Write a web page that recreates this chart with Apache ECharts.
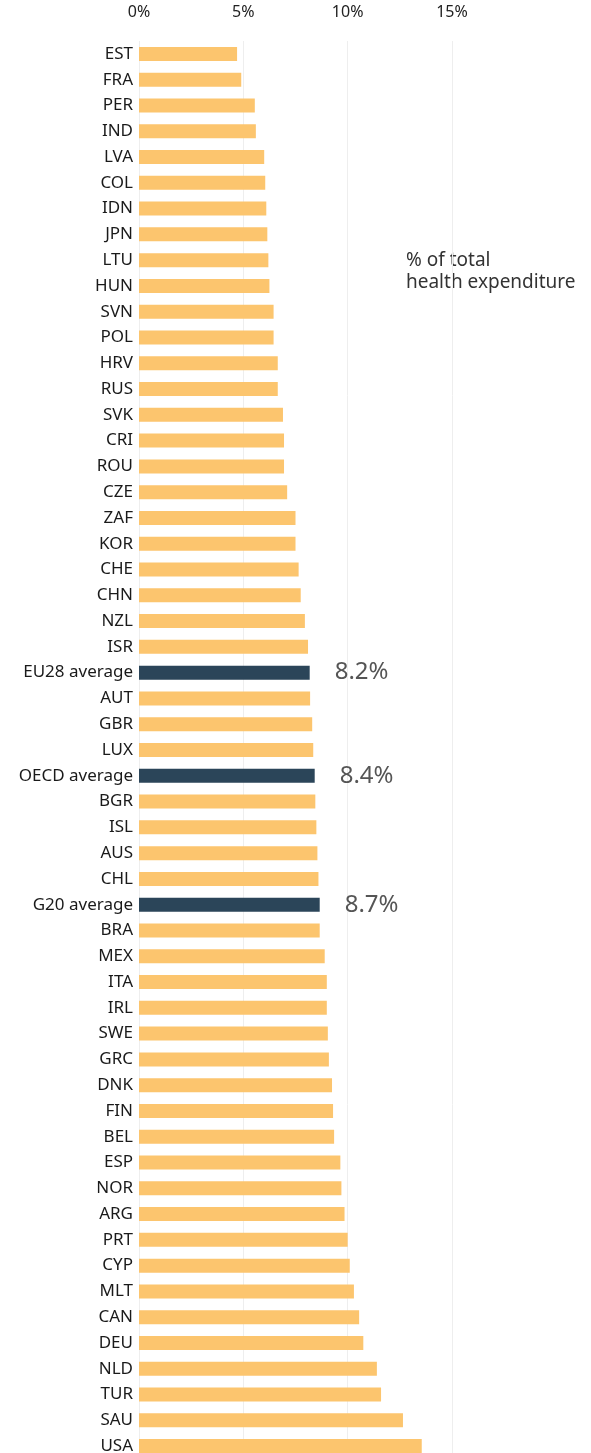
<!DOCTYPE html>
<html>
<head>
<meta charset="utf-8">
<script src="https://cdn.jsdelivr.net/npm/echarts@6/dist/echarts.min.js"></script>
<style>
  html, body { margin: 0; padding: 0; background: #fff; overflow: hidden; }
  /* chart runs a few px past the window bottom, the last bar is cut like in the original */
  #chart { width: 591px; height: 1460px; }
</style>
</head>
<body>
<div id="chart"></div>
<script>
// countries, top to bottom
const countries = [
  'EST', 'FRA', 'PER', 'IND', 'LVA', 'COL', 'IDN', 'JPN', 'LTU', 'HUN',
  'SVN', 'POL', 'HRV', 'RUS', 'SVK', 'CRI', 'ROU', 'CZE', 'ZAF', 'KOR',
  'CHE', 'CHN', 'NZL', 'ISR', 'EU28 average', 'AUT', 'GBR', 'LUX', 'OECD average', 'BGR',
  'ISL', 'AUS', 'CHL', 'G20 average', 'BRA', 'MEX', 'ITA', 'IRL', 'SWE', 'GRC',
  'DNK', 'FIN', 'BEL', 'ESP', 'NOR', 'ARG', 'PRT', 'CYP', 'MLT', 'CAN',
  'DEU', 'NLD', 'TUR', 'SAU', 'USA'
];

// % of total health expenditure
const shares = [
  4.7, 4.9, 5.55, 5.6, 6.0, 6.05, 6.1, 6.15, 6.2, 6.25,
  6.45, 6.45, 6.65, 6.65, 6.9, 6.95, 6.95, 7.1, 7.5, 7.5,
  7.65, 7.75, 7.95, 8.1, 8.18, 8.2, 8.3, 8.35, 8.42, 8.45,
  8.5, 8.55, 8.6, 8.66, 8.66, 8.9, 9.0, 9.0, 9.05, 9.1,
  9.25, 9.3, 9.35, 9.65, 9.7, 9.85, 10.0, 10.1, 10.3, 10.55,
  10.75, 11.4, 11.6, 12.65, 13.55
];

const averages = ['EU28 average', 'OECD average', 'G20 average'];
const xTicks = [0, 5, 10, 15];

const chart = echarts.init(document.getElementById('chart'));

const barData = countries.map((name, i) => {
  const isAvg = averages.includes(name);
  return {
    value: shares[i],
    itemStyle: { color: isAvg ? '#2b4559' : '#fcc56e' },
    label: {
      show: isAvg,
      position: 'right',
      distance: 25,
      formatter: p => p.value.toFixed(1) + '%',
      fontFamily: 'Noto Sans',
      fontSize: 24,
      color: '#555'
    }
  };
});

chart.setOption({
  animation: false,
  textStyle: { fontFamily: 'Noto Sans' },
  grid: { left: 139, right: 139, top: 41, bottom: 1 },
  xAxis: {
    type: 'value',
    position: 'top',
    min: xTicks[0],
    max: xTicks[xTicks.length - 1],
    interval: 5,
    axisLine: { show: false },
    axisTick: { show: false },
    splitLine: { lineStyle: { color: '#eeeeee', width: 1 } },
    axisLabel: {
      formatter: v => v + '%',
      fontSize: 16,
      color: '#222',
      margin: 21
    }
  },
  yAxis: {
    type: 'category',
    data: countries,
    inverse: true,
    axisLine: { show: false },
    axisTick: { show: false },
    axisLabel: { fontSize: 17, color: '#1a1a1a', margin: 6 }
  },
  series: [{
    type: 'bar',
    data: barData,
    barWidth: 14
  }],
  graphic: [{
    type: 'text',
    left: 406,
    top: 250,
    style: {
      text: '% of total\nhealth expenditure',
      font: '19px "Noto Sans"',
      lineHeight: 22,
      fill: '#333'
    }
  }]
});
</script>
</body>
</html>
